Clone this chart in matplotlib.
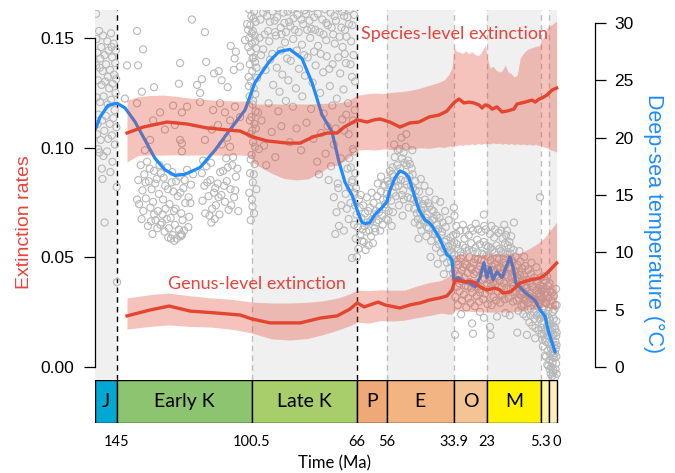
import matplotlib
matplotlib.use("Agg")
import matplotlib.pyplot as plt
from matplotlib.patches import Rectangle

# ---------------- data ----------------
period_names = ["J", "Early K", "Late K", "P", "E", "O", "M", "", ""]
period_bounds = [152.3, 145, 100.5, 66, 56, 33.9, 23, 5.3, 2.58, 0]
period_colors = ["#00A9D4", "#8CC46F", "#A8CE6B", "#EFA877", "#F2B482",
                 "#F5C494", "#FFF200", "#FFF7A8", "#FEEEBC"]
shade_periods = [0, 2, 4, 6, 8]
major_lines = [145, 66]
minor_lines = [100.5, 56, 33.9, 23, 5.3, 2.58]
tick_ages = [145, 100.5, 66, 56, 33.9, 23, 5.3, 0]
tick_labels = ["145", "100.5", "66", "56", "33.9", "23", "5.3", "0"]

# deep-sea temperature records (age Ma, temperature C)
jur_pts = [(151.9, 30.8), (151.8, 28.6), (150.9, 29.3), (149.6, 28.9), (148.2, 28.4), (147.0, 29.1),
           (146.1, 28.2), (145.4, 27.6), (151.5, 27.4), (150.2, 27.9), (149.1, 27.2), (147.8, 27.6),
           (146.6, 27.0), (145.6, 26.5), (151.9, 26.3), (150.7, 26.1), (149.7, 25.8), (148.6, 26.4),
           (147.3, 25.9), (146.0, 25.5), (145.3, 25.1), (151.3, 25.0), (150.1, 24.6), (148.9, 24.9),
           (147.6, 24.3), (146.4, 24.7), (145.5, 23.9), (151.7, 23.5), (150.6, 23.1), (149.4, 23.6),
           (148.1, 22.9), (146.9, 23.3), (145.8, 22.4), (151.1, 22.0), (149.9, 21.5), (148.7, 21.9),
           (147.4, 21.2), (146.2, 21.7), (145.2, 20.9), (151.6, 20.3), (150.4, 19.8), (149.2, 20.6),
           (147.9, 19.9), (146.7, 20.2), (145.7, 19.4), (151.2, 19.0), (149.5, 18.4), (148.3, 18.8),
           (146.5, 17.9), (150.0, 17.3), (147.2, 17.0), (149.8, 16.4), (145.1, 15.7), (149.1, 12.6),
           (145.0, 7.4), (151.4, 21.2), (148.0, 25.3), (146.8, 27.9), (150.5, 26.9), (150.8, 18.7)]

ek_pts = [(138.4, 29.3), (136.4, 27.7), (120.3, 30.3), (116.0, 29.2), (141.7, 26.3), (138.1, 26.3),
          (124.2, 26.5), (115.6, 26.6), (132.8, 24.4), (124.6, 24.7), (136.8, 24.0), (117.0, 25.1),
          (118.6, 24.6), (117.6, 23.9), (113.0, 25.6), (111.5, 25.8), (110.5, 25.0), (108.5, 24.4),
          (106.5, 25.9), (104.4, 26.2), (106.2, 26.9), (107.5, 28.0), (105.8, 27.5), (102.8, 28.5),
          (101.8, 29.4), (102.1, 29.9), (142.4, 23.4), (138.4, 23.0), (126.5, 22.8), (123.6, 22.2),
          (121.9, 22.7), (117.6, 23.1), (113.3, 22.4), (111.0, 23.0), (109.4, 22.2), (107.7, 21.5),
          (106.1, 22.7), (104.4, 21.8), (123.6, 19.5), (124.2, 19.8), (123.6, 18.8), (108.7, 20.0),
          (107.7, 19.2), (106.7, 18.3), (133.1, 21.5), (129.2, 20.7), (130.8, 22.2), (125.9, 21.1),
          (134.1, 19.8), (135.8, 18.9), (113.7, 20.7), (116.0, 19.8), (111.7, 21.1), (110.4, 19.4),
          (137.2, 17.6), (136.0, 16.8), (135.1, 17.9), (134.5, 16.2), (133.6, 15.5), (132.8, 17.1),
          (131.9, 16.4), (131.2, 15.1), (130.5, 16.9), (129.8, 14.6), (129.1, 15.8), (128.4, 17.4),
          (127.7, 14.2), (127.0, 16.1), (126.4, 15.3), (125.7, 13.8), (125.0, 14.9), (124.4, 16.6),
          (123.8, 13.4), (123.1, 15.6), (122.5, 14.3), (121.9, 17.2), (121.2, 13.1), (120.6, 15.9),
          (136.6, 15.4), (135.5, 14.7), (134.0, 13.9), (133.1, 14.4), (132.3, 12.8), (131.5, 13.6),
          (130.7, 12.4), (130.0, 13.3), (129.3, 11.8), (128.6, 12.9), (127.9, 12.1), (127.3, 13.0),
          (126.6, 11.5), (125.9, 12.4), (125.3, 11.2), (124.6, 12.0), (123.9, 11.6), (136.9, 12.9),
          (134.8, 12.3), (133.3, 11.6), (128.1, 11.3), (126.1, 11.0), (124.0, 11.4), (122.9, 11.9),
          (137.7, 14.2), (121.5, 12.2), (138.4, 14.6), (132.8, 13.3), (130.2, 12.6), (123.6, 11.5),
          (127.2, 11.2), (117.0, 16.9), (116.2, 15.8), (115.5, 17.5), (114.8, 14.9), (114.2, 16.3),
          (113.6, 13.8), (113.0, 15.2), (112.4, 14.1), (111.8, 16.0), (111.2, 13.3), (110.6, 15.0),
          (110.0, 17.1), (109.4, 14.4), (108.8, 16.2), (108.2, 13.7), (107.6, 15.5), (107.0, 17.6),
          (106.4, 14.8), (105.8, 16.6), (113.9, 12.6), (112.8, 12.9), (114.5, 13.2), (111.5, 14.8),
          (109.0, 18.2), (116.6, 18.0), (135.6, 16.1), (134.2, 17.3), (132.4, 16.0), (131.0, 17.6),
          (129.6, 16.5), (128.2, 15.5), (126.8, 17.0), (125.5, 16.2), (124.1, 15.2), (122.7, 16.3),
          (121.4, 14.8), (136.3, 13.6), (133.8, 12.7), (131.7, 12.1), (129.0, 13.8), (126.2, 13.6),
          (123.4, 12.8), (120.8, 14.3), (138.0, 16.3), (119.9, 16.8), (116.8, 14.5), (115.9, 13.4),
          (115.2, 16.1), (114.0, 17.8), (112.6, 15.6), (111.0, 17.0), (109.7, 15.8), (108.5, 17.4),
          (107.3, 14.1), (106.0, 15.4), (105.3, 17.3), (105.0, 13.6)]

lk_pts = [(101.5, 31.2), (100.7, 30.6), (99.8, 31.0), (101.0, 29.8), (100.2, 29.3), (99.3, 30.1),
          (101.4, 28.7), (100.5, 28.2), (99.6, 28.9), (100.9, 27.5), (100.0, 27.0), (99.1, 27.8),
          (101.2, 26.4), (100.4, 25.8), (99.5, 26.6), (100.8, 24.9), (99.9, 24.3), (98.8, 25.2),
          (101.3, 23.6), (100.3, 22.9), (99.4, 23.8), (100.7, 21.8), (99.7, 21.2), (101.0, 20.3),
          (100.1, 19.6), (99.2, 20.8), (100.6, 18.5), (99.6, 17.7), (101.1, 16.9), (100.2, 16.1),
          (99.0, 15.5), (100.5, 14.6), (99.8, 13.4), (100.9, 12.8), (98.5, 22.2), (98.2, 19.0),
          (101.6, 25.3), (97.0, 31.5), (95.5, 30.6), (94.2, 31.8), (93.0, 30.2), (92.0, 31.3),
          (91.0, 29.6), (90.1, 30.9), (89.0, 31.6), (88.2, 30.1), (87.3, 31.2), (86.4, 29.4),
          (85.5, 30.7), (84.5, 31.8), (83.6, 29.9), (82.7, 30.8), (81.8, 31.4), (80.9, 29.5),
          (80.0, 30.5), (79.1, 31.6), (78.2, 29.2), (77.3, 30.3), (76.4, 31.2), (75.5, 29.8),
          (74.6, 30.9), (73.7, 29.0), (72.8, 30.2), (71.9, 31.3), (71.0, 29.6), (70.1, 30.6),
          (69.3, 28.8), (68.5, 29.9), (96.3, 29.0), (94.8, 28.4), (92.6, 28.9), (89.6, 28.3),
          (86.9, 28.6), (84.0, 28.1), (81.3, 28.7), (78.7, 28.0), (76.0, 28.5), (73.2, 28.2),
          (70.6, 27.9), (67.8, 28.4), (97.5, 27.2), (96.0, 25.9), (94.5, 26.8), (93.5, 24.6),
          (92.3, 26.1), (91.4, 24.0), (90.5, 25.5), (89.3, 23.2), (88.5, 25.0), (87.7, 26.7),
          (86.0, 24.3), (85.0, 26.0), (83.9, 23.6), (83.0, 25.4), (82.1, 27.0), (80.5, 24.8),
          (79.5, 26.3), (78.0, 23.9), (77.0, 25.7), (75.8, 27.1), (74.8, 24.5), (73.9, 26.4),
          (72.5, 23.4), (71.4, 25.6), (70.3, 24.2), (69.5, 26.5), (68.8, 23.0), (67.5, 25.3),
          (66.6, 22.4), (95.0, 23.0), (91.8, 22.3), (87.0, 22.7), (81.0, 22.5), (76.8, 22.1),
          (74.0, 22.8), (97.3, 21.5), (96.5, 19.3), (95.8, 17.6), (94.0, 20.5), (92.8, 18.3),
          (90.8, 21.0), (88.0, 19.6), (85.8, 20.8), (84.3, 18.9), (82.5, 21.3), (80.2, 19.9),
          (79.0, 17.9), (78.4, 16.8), (77.7, 20.4), (76.2, 18.6), (75.2, 16.3), (74.4, 17.5),
          (73.5, 19.4), (72.2, 16.0), (71.2, 18.2), (70.0, 20.6), (69.0, 17.3), (68.2, 15.6),
          (67.2, 19.0), (66.4, 16.9), (73.5, 14.8), (72.6, 13.5), (71.8, 12.3), (71.0, 14.1),
          (70.2, 11.9), (69.6, 15.1), (73.0, 11.6), (72.0, 15.6), (101.3, 31.6), (100.0, 30.4),
          (100.6, 29.1), (99.4, 28.4), (101.7, 27.9), (100.3, 26.9), (99.0, 26.1), (101.5, 24.5),
          (100.1, 23.2), (99.3, 22.3), (101.2, 21.5), (100.4, 20.6), (99.5, 19.2), (100.9, 18.1),
          (99.9, 16.8), (101.4, 15.2), (100.3, 14.0), (98.0, 28.7), (97.7, 30.3), (96.8, 30.9),
          (96.0, 31.3), (95.2, 29.3), (94.6, 30.1), (93.7, 31.0), (92.9, 29.2), (92.2, 30.5),
          (91.5, 31.5), (90.7, 29.0), (89.8, 30.0), (89.3, 29.2), (88.7, 31.0), (87.8, 29.7),
          (86.8, 30.4), (85.9, 31.4), (85.1, 29.2), (84.2, 30.3), (83.2, 31.1), (82.3, 29.4),
          (81.5, 30.2), (80.6, 31.3), (79.6, 29.4), (78.8, 30.8), (77.9, 31.5), (76.9, 29.0),
          (76.0, 30.0), (75.1, 31.4), (74.2, 29.6), (73.3, 30.6), (72.4, 31.5), (71.6, 28.8),
          (70.8, 31.0), (69.8, 29.4), (69.0, 30.5), (68.2, 31.2), (67.4, 29.8), (66.8, 30.7),
          (67.0, 27.2), (68.0, 26.4), (69.9, 27.3), (72.0, 27.0), (75.0, 26.0), (77.8, 27.3),
          (80.0, 27.5), (83.3, 27.2), (85.7, 27.6), (88.9, 26.9), (91.0, 27.6), (93.8, 27.3),
          (96.8, 27.7), (66.5, 24.9), (67.2, 21.5), (66.9, 18.8), (67.9, 17.4), (68.6, 20.3),
          (69.4, 22.0), (70.7, 21.6), (72.9, 20.8), (75.6, 21.0), (68.4, 18.2), (67.6, 16.1)]

pe_pts = [(67.0, 15.2), (66.5, 14.1), (66.0, 13.3), (65.6, 12.2), (65.2, 14.6), (64.8, 11.5),
          (64.4, 13.0), (64.0, 12.0), (63.6, 10.9), (63.2, 13.4), (62.8, 11.8), (62.4, 12.6),
          (62.0, 10.6), (61.6, 13.9), (61.2, 11.4), (60.8, 12.9), (60.4, 14.3), (60.0, 12.1),
          (59.6, 13.6), (59.2, 14.9), (58.8, 12.8), (58.4, 14.0), (58.0, 15.3), (57.6, 13.2),
          (57.2, 14.6), (56.8, 15.8), (56.4, 13.9), (56.0, 15.1), (65.9, 9.6), (63.0, 10.2),
          (67.4, 16.3), (66.2, 15.6), (64.6, 15.0), (61.0, 15.2), (59.0, 16.0), (57.9, 16.6),
          (62.6, 14.8), (60.6, 10.8), (68.0, 14.3), (68.6, 12.9), (69.2, 13.8), (67.5, 9.5),
          (55.8, 16.2), (55.4, 13.6), (55.0, 17.1), (54.6, 14.5), (54.2, 16.8), (53.8, 15.2),
          (53.4, 18.3), (53.0, 14.9), (52.6, 17.6), (52.2, 15.8), (51.8, 19.0), (51.4, 16.3),
          (51.0, 18.2), (50.6, 15.4), (50.2, 17.8), (49.8, 19.2), (49.4, 15.9), (49.0, 18.0),
          (48.6, 16.6), (48.2, 14.7), (47.8, 17.3), (47.4, 15.6), (47.0, 13.8), (46.6, 16.2),
          (46.2, 14.4), (45.8, 12.9), (45.4, 15.3), (45.0, 13.5), (44.6, 11.9), (44.2, 14.2),
          (43.8, 12.6), (43.4, 14.6), (43.0, 11.4), (42.6, 13.3), (42.2, 12.1), (41.8, 14.0),
          (41.4, 11.0), (41.0, 12.8), (40.6, 13.6), (40.2, 11.6), (39.8, 10.4), (39.4, 12.4),
          (39.0, 11.1), (38.6, 13.0), (38.2, 10.0), (37.8, 11.8), (37.4, 9.5), (37.0, 10.9),
          (36.6, 12.2), (36.2, 9.1), (35.8, 10.5), (35.4, 8.6), (35.0, 11.3), (34.6, 9.9),
          (34.2, 8.2), (55.6, 12.8), (54.0, 13.5), (52.0, 14.1), (50.4, 14.6), (48.8, 13.9),
          (46.8, 12.6), (44.8, 16.4), (43.6, 15.8), (42.0, 15.3), (40.0, 14.6), (38.4, 14.4),
          (36.8, 13.6), (35.6, 12.8), (53.6, 19.4), (51.2, 20.0), (49.6, 20.3), (47.6, 18.9),
          (54.4, 12.3), (50.8, 13.2), (45.6, 11.2), (41.6, 9.6), (39.2, 9.0), (37.2, 8.1),
          (66.8, 12.4), (66.3, 11.2), (65.4, 10.3), (65.0, 13.9), (64.2, 11.0), (63.8, 14.1),
          (63.4, 12.3), (62.2, 13.6), (61.8, 11.9), (61.4, 12.7), (60.2, 13.3), (59.8, 11.8),
          (59.4, 12.6), (58.6, 13.5), (58.2, 11.9), (57.4, 12.4), (57.0, 15.9), (56.6, 14.2),
          (56.2, 12.9), (55.9, 14.7), (55.2, 15.9), (54.8, 16.0), (54.1, 17.4), (53.7, 16.6),
          (53.2, 15.7), (52.8, 16.2), (52.4, 18.9), (51.6, 17.3), (51.1, 15.0), (50.5, 18.7),
          (50.0, 16.2), (49.5, 17.6), (49.1, 14.8), (48.4, 17.7), (48.0, 15.8), (47.5, 16.8),
          (47.1, 14.6), (46.5, 15.4), (46.1, 13.4), (45.6, 14.5), (45.2, 12.4), (44.7, 13.7),
          (44.3, 12.8), (43.9, 13.9), (43.2, 13.0), (42.8, 12.2), (42.4, 14.3), (41.9, 12.6),
          (41.2, 13.7), (40.8, 11.6), (40.4, 12.9), (39.9, 11.8), (39.6, 13.2), (39.1, 12.0),
          (38.8, 10.7), (38.0, 11.5), (37.6, 12.6), (37.1, 10.3), (36.4, 11.1), (36.0, 10.0),
          (35.2, 10.2), (34.8, 9.2), (34.4, 10.6), (34.0, 9.4), (34.1, 11.5)]

om_pts = [(33.8, 10.9), (33.6, 8.4), (33.4, 6.1), (33.2, 11.6), (33.0, 9.2), (32.8, 7.0), (32.6, 5.4),
          (32.4, 10.3), (32.2, 8.0), (32.0, 6.6), (31.8, 11.9), (31.6, 9.5), (31.4, 7.5), (31.2, 5.8),
          (31.0, 10.6), (30.8, 8.7), (30.6, 6.3), (30.4, 11.2), (30.2, 9.0), (30.0, 7.1), (29.8, 5.2),
          (29.6, 10.1), (29.4, 8.2), (29.2, 6.0), (29.0, 11.5), (28.8, 9.6), (28.6, 7.4), (28.4, 5.6),
          (28.2, 10.8), (28.0, 8.5), (27.8, 6.5), (27.6, 11.9), (27.4, 9.1), (27.2, 7.2), (27.0, 5.3),
          (26.8, 10.4), (26.6, 8.3), (26.4, 6.2), (26.2, 11.1), (26.0, 9.4), (25.8, 7.0), (25.6, 5.7),
          (25.4, 10.7), (25.2, 8.8), (25.0, 6.8), (24.8, 11.8), (24.6, 9.9), (24.4, 7.6), (24.2, 5.9),
          (24.0, 10.9), (23.8, 8.6), (23.6, 6.4), (23.4, 12.0), (23.2, 9.7), (23.0, 7.3), (22.8, 5.5),
          (22.6, 10.5), (22.4, 8.1), (22.2, 6.7), (22.0, 11.6), (21.8, 9.3), (21.6, 7.1), (21.4, 5.4),
          (21.2, 10.2), (21.0, 8.4), (20.8, 6.1), (20.6, 11.3), (20.4, 9.0), (20.2, 7.2), (20.0, 5.8),
          (19.8, 10.6), (19.6, 8.6), (19.4, 6.6), (19.2, 11.7), (19.0, 9.4), (18.8, 7.5), (18.6, 5.6),
          (18.4, 10.1), (18.2, 8.2), (18.0, 6.3), (17.8, 11.2), (17.6, 9.1), (17.4, 7.3), (17.2, 5.9),
          (17.0, 10.8), (16.8, 8.9), (16.6, 6.9), (16.4, 11.9), (16.2, 9.8), (16.0, 7.8), (15.8, 6.0),
          (15.6, 10.9), (15.4, 8.7), (15.2, 6.8), (15.0, 11.4), (14.8, 9.3), (14.6, 7.4), (14.4, 5.7),
          (14.2, 10.2), (14.0, 8.4), (13.8, 6.5), (13.6, 9.6), (13.4, 7.6), (13.2, 5.8), (13.0, 8.9),
          (12.8, 6.9), (12.6, 4.9), (12.4, 8.3), (12.2, 6.4), (12.0, 9.2), (11.8, 7.3), (11.6, 5.3),
          (11.4, 8.6), (11.2, 6.6), (11.0, 4.6), (10.8, 7.9), (10.6, 5.9), (10.4, 8.8), (10.2, 6.9),
          (10.0, 4.4), (9.8, 7.6), (9.6, 5.6), (9.4, 8.5), (9.2, 6.2), (9.0, 3.9), (8.8, 7.3),
          (8.6, 5.1), (8.4, 8.1), (8.2, 6.0), (8.0, 3.6), (7.8, 7.0), (7.6, 4.8), (7.4, 7.8),
          (7.2, 5.6), (7.0, 3.4), (6.8, 6.7), (6.6, 4.5), (6.4, 7.5), (6.2, 5.3), (6.0, 3.2),
          (5.8, 6.4), (5.6, 4.2), (5.4, 7.1), (33.9, 13.9), (33.7, 13.2), (24.0, 13.3), (14.1, 12.6),
          (5.5, 14.8), (33.5, 2.8), (27.9, 3.8), (27.6, 2.9), (24.0, 4.3), (22.0, 3.5), (21.8, 2.8),
          (19.7, 4.4), (13.0, 3.0), (9.8, 2.8), (7.1, 2.5), (30.9, 12.4), (26.7, 12.5), (21.5, 12.3),
          (17.3, 12.4), (31.5, 4.6), (25.3, 4.8), (16.9, 4.7), (15.5, 4.5),
          (33.7, 9.8), (33.3, 7.6), (32.9, 10.7), (32.5, 8.9), (32.1, 7.3), (31.7, 10.0), (31.3, 8.4),
          (30.9, 9.7), (30.5, 7.8), (30.1, 10.4), (29.7, 8.9), (29.3, 7.0), (28.9, 10.2), (28.5, 8.7),
          (28.1, 6.9), (27.7, 10.1), (27.3, 8.1), (26.9, 9.4), (26.5, 7.3), (26.1, 10.0), (25.7, 8.5),
          (25.3, 6.5), (24.9, 9.3), (24.5, 8.2), (24.1, 9.8), (23.7, 7.7), (23.3, 10.6), (22.9, 8.5),
          (22.5, 9.6), (22.1, 7.6), (21.7, 10.4), (21.3, 8.8), (20.9, 7.4), (20.5, 10.0), (20.1, 8.3),
          (19.7, 9.5), (19.3, 7.9), (18.9, 10.3), (18.5, 8.7), (18.1, 7.0), (17.7, 10.0), (17.3, 8.5),
          (16.9, 9.9), (16.5, 8.0), (16.1, 10.6), (15.7, 8.6), (15.3, 9.9), (14.9, 7.8), (14.5, 9.1),
          (14.1, 7.1), (13.7, 8.3), (13.3, 6.6), (12.9, 7.8), (12.5, 6.0), (12.1, 8.0), (11.7, 6.3),
          (11.3, 7.6), (10.9, 5.5), (10.5, 7.1), (10.1, 5.8), (9.7, 6.9), (9.3, 5.0), (8.9, 6.4),
          (8.5, 4.5), (8.1, 7.0), (7.7, 5.9), (7.3, 4.2), (6.9, 5.9), (6.5, 6.3), (6.1, 4.6),
          (5.7, 5.5), (5.3, 6.2), (33.1, 12.3), (29.9, 11.9), (28.3, 12.1), (25.9, 12.0), (23.9, 12.3),
          (20.3, 12.0), (18.3, 11.9), (16.7, 11.5), (15.1, 10.4), (12.3, 10.1), (10.7, 9.6),
          (8.3, 9.1), (6.7, 8.7)]

pp_pts = [(5.2, 7.8), (5.0, 5.9), (4.8, 3.8), (4.6, 7.0), (4.4, 5.1), (4.2, 2.9), (4.0, 6.3),
          (3.8, 4.4), (3.6, 2.2), (3.4, 5.6), (3.2, 3.6), (3.0, 1.4), (2.8, 4.9), (2.6, 2.7),
          (2.4, 0.6), (2.2, 4.1), (2.0, 2.0), (1.8, 0.0), (1.6, 3.4), (1.4, 1.3), (1.2, -0.5),
          (1.0, 2.8), (0.8, 0.8), (0.6, -0.9), (0.4, 2.2), (0.2, 0.3), (0.0, -0.6), (5.1, 4.6),
          (4.7, 2.4), (4.3, 4.0), (3.9, 1.0), (3.5, 3.2), (3.1, 0.2), (2.7, 2.1), (2.3, -0.2),
          (1.9, 1.6), (1.5, -0.8), (1.1, 1.0), (0.7, 3.5), (0.3, 1.6), (0.1, 4.0), (0.5, 5.4),
          (0.9, 6.2), (1.3, 4.8), (1.7, 5.8), (2.1, 6.6), (2.5, 5.2), (2.9, 7.1), (3.3, 6.5),
          (3.7, 7.5), (4.1, 7.9), (0.0, 3.0), (0.2, 6.8), (0.05, 1.9), (5.25, 6.8), (4.9, 6.6),
          (4.5, 6.0), (4.1, 5.3), (3.75, 3.1), (3.35, 4.5), (2.95, 2.8), (2.55, 3.6), (2.15, 1.1),
          (1.75, 2.6), (1.35, 0.4), (0.95, 4.2), (0.55, 1.2), (0.15, 2.7), (4.95, 2.9), (4.55, 1.8),
          (3.55, 0.9), (2.75, 0.1), (1.95, -0.6), (1.05, -0.3), (0.35, -0.2), (0.75, 5.0),
          (1.55, 6.5), (2.35, 7.3), (3.15, 7.9), (0.0, 5.4), (0.1, 0.9), (0.45, 3.3), (0.85, 1.9),
          (1.25, 2.9), (1.65, 1.9), (2.05, 3.2), (2.45, 4.3), (2.85, 6.0), (3.45, 2.5), (3.85, 5.6),
          (4.25, 6.8), (4.65, 4.5), (5.05, 3.4)]

# deep-sea temperature smoothed curve
temp_age = [152.0, 150.6, 148.0, 145.0, 142.4, 139.1, 135.8, 132.5, 129.2, 125.9, 122.6, 117.6,
            112.7, 107.7, 102.8, 99.5, 94.9, 91.6, 88.0, 84.0, 80.7, 77.4, 74.1, 71.8, 69.8, 67.5,
            65.8, 64.2, 63.2, 61.6, 59.9, 57.6, 56.0, 55.0, 53.3, 51.7, 50.0, 48.7, 47.0, 45.4,
            43.4, 42.1, 41.1, 38.8, 36.2, 35.2, 34.5, 33.9, 32.5, 30.2, 28.6, 26.9, 25.3, 24.0,
            23.0, 22.0, 21.0, 19.7, 18.0, 16.4, 15.4, 14.4, 13.4, 10.4, 7.1, 5.5, 3.8, 2.8, 1.5, 0.5]
temp_val = [20.8, 21.8, 22.8, 23.0, 22.6, 21.4, 19.8, 18.2, 17.2, 16.7, 16.8, 17.4,
            18.9, 20.7, 22.4, 24.8, 26.6, 27.5, 27.7, 26.9, 24.8, 22.0, 20.5, 17.9, 16.1, 15.0,
            13.7, 12.6, 12.5, 12.6, 13.3, 13.9, 14.4, 15.4, 16.5, 17.1, 16.9, 16.5, 15.0, 13.7,
            12.8, 12.6, 12.3, 11.3, 9.8, 9.6, 9.3, 7.6, 7.8, 7.4, 7.3, 7.0, 7.8, 9.1,
            7.8, 8.7, 7.6, 8.3, 7.8, 8.9, 9.6, 8.7, 7.3, 6.5, 5.8, 5.0, 4.4, 3.2, 2.1, 1.3]

# species-level extinction rate (median) and band
sp_age = [141.7, 136.4, 128.5, 121.9, 115.3, 108.7, 104.4, 100.2, 95.5, 88.9, 84.6, 80.4, 75.7,
          72.4, 70.1, 65.8, 62.5, 60.2, 58.3, 55.0, 51.7, 48.4, 45.4, 42.1, 38.8, 36.2, 34.5,
          33.5, 32.2, 30.6, 28.9, 27.3, 25.6, 24.6, 23.6, 22.3, 21.3, 19.7, 18.0, 16.4, 14.1,
          13.1, 10.4, 8.1, 7.1, 5.8, 4.8, 3.2, 1.5, 0.0]
sp_rate = [0.1067, 0.1094, 0.1117, 0.1108, 0.1090, 0.1081, 0.1076, 0.1049, 0.1031, 0.1021, 0.1021,
           0.1049, 0.1067, 0.1067, 0.1094, 0.1127, 0.1117, 0.1127, 0.1131, 0.1117, 0.1094, 0.1113,
           0.1117, 0.1140, 0.1149, 0.1167, 0.1195, 0.1210, 0.1222, 0.1204, 0.1208, 0.1204, 0.1195,
           0.1181, 0.1195, 0.1190, 0.1176, 0.1186, 0.1163, 0.1167, 0.1176, 0.1199, 0.1208, 0.1217,
           0.1208, 0.1222, 0.1227, 0.1240, 0.1263, 0.1272]
spb_age = [141.7, 138, 134, 130, 126, 122, 118, 114, 110, 106, 102, 100.6, 100.4, 97, 94, 90, 86,
           82, 78, 75, 72, 69, 66, 63, 60, 57, 54, 51, 48, 45, 42, 39, 37, 35.5, 34.5, 33.9, 33.0,
           32, 31, 30, 29, 28, 27, 26, 25, 24, 23.5, 23, 22, 21, 20, 19, 18, 17, 16, 15, 14, 13,
           12, 11, 10, 9, 8, 7, 6, 5.5, 5.2, 4.5, 4, 3.2, 2.5, 1.5, 0.5, 0]
spb_hi = [0.1217, 0.1233, 0.1238, 0.1240, 0.1235, 0.1228, 0.1222, 0.1218, 0.1215, 0.1213, 0.1213,
          0.1212, 0.1199, 0.1199, 0.1201, 0.1198, 0.1200, 0.1199, 0.1202, 0.1203, 0.1205, 0.1212,
          0.1238, 0.1245, 0.1249, 0.1247, 0.1253, 0.1256, 0.1262, 0.1272, 0.1285, 0.1297, 0.1310,
          0.1335, 0.1365, 0.1455, 0.1440, 0.1436, 0.1430, 0.1441, 0.1428, 0.1438, 0.1425, 0.1420,
          0.1430, 0.1455, 0.1468, 0.1420, 0.1363, 0.1372, 0.1354, 0.1345, 0.1350, 0.1377, 0.1345,
          0.1338, 0.1322, 0.1332, 0.1409, 0.1430, 0.1444, 0.1452, 0.1457, 0.1462, 0.1464, 0.1468,
          0.1491, 0.1500, 0.1506, 0.1546, 0.1555, 0.1562, 0.1573, 0.1576]
spb_lo = [0.0935, 0.0965, 0.0967, 0.0966, 0.0968, 0.0966, 0.0967, 0.0967, 0.0966, 0.0967, 0.0965,
          0.0950, 0.0935, 0.0905, 0.0883, 0.0860, 0.0853, 0.0858, 0.0885, 0.0915, 0.0921, 0.0950,
          0.0988, 0.0992, 0.0989, 0.0995, 0.0991, 0.0996, 0.0993, 0.1000, 0.0997, 0.1004, 0.1001,
          0.1008, 0.1005, 0.1012, 0.1009, 0.1014, 0.1010, 0.1016, 0.1012, 0.1018, 0.1013, 0.1019,
          0.1015, 0.1020, 0.1016, 0.1021, 0.1017, 0.1022, 0.1018, 0.1021, 0.1016, 0.1020, 0.1015,
          0.1019, 0.1014, 0.1018, 0.1013, 0.1017, 0.1012, 0.1016, 0.1011, 0.1015, 0.1010, 0.1012,
          0.1008, 0.1005, 0.1002, 0.0999, 0.0993, 0.0988, 0.0983, 0.0980]

# genus-level extinction rate (median) and band
gen_age = [141.7, 134.1, 127.8, 120.9, 112.0, 104.4, 100.5, 94.5, 84.6, 78.0, 72.4, 68.2, 65.8,
           63.5, 61.6, 58.9, 56.6, 51.7, 48.4, 45.1, 41.8, 38.5, 36.2, 34.5, 33.5, 31.9, 30.2, 28.6,
           26.9, 25.3, 23.0, 20.4, 18.7, 17.7, 15.4, 13.8, 12.1, 8.8, 5.5, 3.8, 2.2, 0.0]
gen_rate = [0.0233, 0.0260, 0.0278, 0.0255, 0.0246, 0.0237, 0.0219, 0.0201, 0.0201, 0.0223, 0.0233,
            0.0264, 0.0292, 0.0274, 0.0283, 0.0296, 0.0283, 0.0269, 0.0283, 0.0292, 0.0306, 0.0315,
            0.0324, 0.0351, 0.0397, 0.0392, 0.0388, 0.0392, 0.0383, 0.0365, 0.0351, 0.0360, 0.0351,
            0.0337, 0.0342, 0.0360, 0.0383, 0.0397, 0.0406, 0.0420, 0.0442, 0.0474]
genb_age = [141.7, 134, 128, 121, 114, 107, 100.5, 94, 88, 82, 77, 72, 68, 65.8, 62, 58, 54, 50,
            46, 42, 38, 35, 34.2, 33.6, 30, 26, 22, 18, 14, 12, 9, 5.5, 3.8, 2, 0]
genb_hi = [0.0315, 0.0330, 0.0337, 0.0325, 0.0315, 0.0308, 0.0296, 0.0292, 0.0292, 0.0295, 0.0302,
           0.0315, 0.0335, 0.0351, 0.0348, 0.0352, 0.0350, 0.0351, 0.0370, 0.0385, 0.0395, 0.0420,
           0.0470, 0.0511, 0.0515, 0.0512, 0.0516, 0.0514, 0.0518, 0.0520, 0.0540, 0.0570, 0.0593,
           0.0625, 0.0660]
genb_lo = [0.0173, 0.0185, 0.0192, 0.0185, 0.0182, 0.0172, 0.0155, 0.0128, 0.0123, 0.0130, 0.0148,
           0.0169, 0.0190, 0.0205, 0.0200, 0.0212, 0.0210, 0.0214, 0.0225, 0.0235, 0.0246, 0.0240,
           0.0245, 0.0260, 0.0255, 0.0252, 0.0250, 0.0251, 0.0252, 0.0255, 0.0262, 0.0270, 0.0274,
           0.0268, 0.0260]

# ---------------- styling ----------------
RED = "#E4452F"
RED_TXT = "#E8433A"
BAND = "#E4452F"
BLUE = "#1E8CFF"
PT_GRAY = "#B8B8B8"
SANS = ["Liberation Sans", "DejaVu Sans"]
HUM = ["Lato", "DejaVu Sans"]

W, H = 675, 473
fig = plt.figure(figsize=(W / 100, H / 100), dpi=100)
L, R, T, B = 95, 561, 10, 380
xlim = (152.26, -1.43)

ax_t = fig.add_axes([L / W, 1 - B / H, (R - L) / W, (B - T) / H])
ax_e = ax_t.twinx()
ax_t.set_xlim(*xlim)
ax_t.set_ylim(-1.134, 31.13)
ax_e.set_ylim(-0.00593, 0.16279)

# background shading
for i in shade_periods:
    ax_t.axvspan(period_bounds[i], period_bounds[i + 1], color="#F0F0F0", lw=0, zorder=0)
for a in major_lines:
    ax_t.axvline(a, color="black", lw=1.0, ls=(0, (4, 3)), zorder=1)
for a in minor_lines:
    ax_t.axvline(a, color="#BDBDBD", lw=1.0, ls=(0, (4, 3)), zorder=1)

# scatter of temperature records
for pts in [jur_pts, ek_pts, lk_pts, pe_pts, om_pts, pp_pts]:
    xs = [p[0] for p in pts]
    ys = [p[1] for p in pts]
    ax_t.scatter(xs, ys, s=26, facecolors="none", edgecolors=PT_GRAY, linewidths=0.8, zorder=2)

ax_t.plot(temp_age, temp_val, color=BLUE, lw=2.3, zorder=3, solid_capstyle="round")

# extinction rates
ax_e.fill_between(spb_age, spb_lo, spb_hi, color=BAND, alpha=0.32, lw=0, zorder=1)
ax_e.fill_between(genb_age, genb_lo, genb_hi, color=BAND, alpha=0.32, lw=0, zorder=1)
ax_e.plot(sp_age, sp_rate, color=RED, lw=2.4, zorder=2)
ax_e.plot(gen_age, gen_rate, color=RED, lw=2.4, zorder=2)

ax_e.text(33.7, 0.1518, "Species-level extinction", color=RED_TXT, fontsize=13,
          family=HUM, ha="center", va="center")
ax_e.text(98.8, 0.0378, "Genus-level extinction", color=RED_TXT, fontsize=13,
          family=HUM, ha="center", va="center")

# spines and ticks
for sp in ["top", "bottom", "left"]:
    ax_t.spines[sp].set_visible(False)
for sp in ["top", "bottom", "right"]:
    ax_e.spines[sp].set_visible(False)
ax_t.spines["right"].set_position(("outward", 24.5))
ax_t.spines["right"].set_bounds(0, 30)
ax_e.spines["left"].set_bounds(0, 0.15)
ax_t.spines["right"].set_linewidth(0.9)
ax_e.spines["left"].set_linewidth(0.9)

ax_t.yaxis.set_ticks_position("right")
ax_e.yaxis.set_ticks_position("left")
ax_t.set_xticks([])
ax_t.set_yticks([0, 5, 10, 15, 20, 25, 30])
ax_e.set_yticks([0, 0.05, 0.10, 0.15])
ax_e.set_yticklabels(["0.00", "0.05", "0.10", "0.15"])
ax_t.tick_params(axis="y", length=8, width=0.9, pad=6, labelsize=12.5)
ax_e.tick_params(axis="y", length=8, width=0.9, pad=7, labelsize=12.5)
for lab in ax_t.get_yticklabels() + ax_e.get_yticklabels():
    lab.set_family(SANS)

fig.text(25 / W, 1 - 222 / H, "Extinction rates", rotation=90, color=RED_TXT,
         fontsize=14, family=SANS, ha="center", va="center")
fig.text(654 / W, 1 - 224 / H, "Deep-sea temperature (°C)", rotation=270, color=BLUE,
         fontsize=15.5, family=SANS, ha="center", va="center")

# timescale bar
ax_s = fig.add_axes([L / W, 1 - 423 / H, (R - L) / W, 43 / H])
ax_s.set_xlim(*xlim)
ax_s.set_ylim(0, 1)
ax_s.axis("off")
for i, name in enumerate(period_names):
    a0, a1 = period_bounds[i], period_bounds[i + 1]
    ax_s.add_patch(Rectangle((a1, 0), a0 - a1, 1, facecolor=period_colors[i],
                             edgecolor="black", lw=1.0))
    if name:
        ax_s.text((a0 + a1) / 2, 0.5, name, ha="center", va="center",
                  fontsize=14, family=HUM)
for a, t in zip(tick_ages, tick_labels):
    ax_s.text(a, -0.45, t, ha="center", va="center", fontsize=10.5, family=HUM)
fig.text(335 / W, 1 - 463 / H, "Time (Ma)", ha="center", va="center", fontsize=12, family=HUM)

fig.savefig("out.png", dpi=100)
